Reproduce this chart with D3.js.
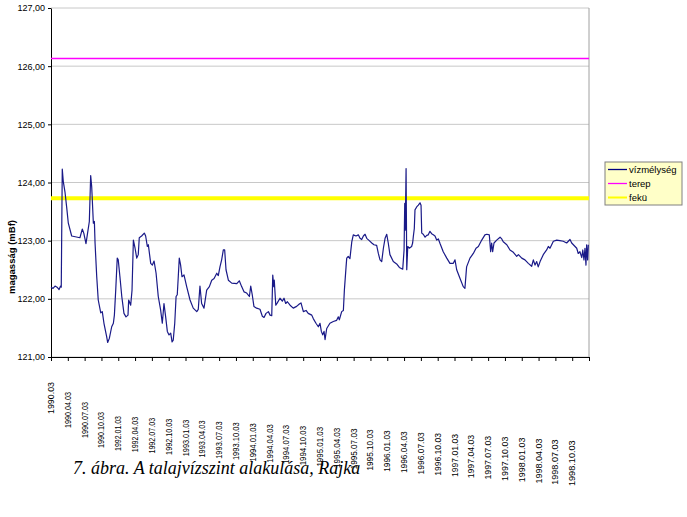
<!DOCTYPE html>
<html>
<head>
<meta charset="utf-8">
<script src="https://cdn.jsdelivr.net/npm/d3@7"></script>
<style>
  body { margin: 0; background: #fff; }
  svg { display: block; font-family: "Liberation Sans", Arial, sans-serif; }
</style>
</head>
<body>
<svg id="chart" width="687" height="517"></svg>
<script>
// tick labels on the category axis (one every quarter)
const quarterLabels = ["1990.03", "1990.04.03", "1990.07.03", "1990.10.03",
  "1992.01.03", "1992.04.03", "1992.07.03", "1992.10.03",
  "1993.01.03", "1993.04.03", "1993.07.03", "1993.10.03",
  "1994.01.03", "1994.04.03", "1994.07.03", "1994.10.03",
  "1995.01.03", "1995.04.03", "1995.07.03", "1995.10.03",
  "1996.01.03", "1996.04.03", "1996.07.03", "1996.10.03",
  "1997.01.03", "1997.04.03", "1997.07.03", "1997.10.03",
  "1998.01.03", "1998.04.03", "1998.07.03", "1998.10.03"];

// measurement time in quarters since the first label
const obsT = [0, 0.12, 0.24, 0.36, 0.48, 0.57, 0.61, 0.67, 0.73, 0.83, 0.93, 1.03, 1.23, 1.72, 1.86, 1.95,
  2.08, 2.16, 2.28, 2.36, 2.42, 2.52, 2.58, 2.62, 2.72, 2.81, 2.96, 3.05, 3.15, 3.31, 3.37, 3.47,
  3.61, 3.71, 3.77, 3.85, 3.94, 4.00, 4.10, 4.21, 4.34, 4.46, 4.58, 4.62, 4.74, 4.82, 4.90, 5.00,
  5.10, 5.19, 5.25, 5.39, 5.55, 5.63, 5.73, 5.79, 5.93, 6.03, 6.13, 6.25, 6.38, 6.52, 6.62, 6.72,
  6.82, 6.92, 7.02, 7.12, 7.20, 7.27, 7.36, 7.44, 7.51, 7.57, 7.63, 7.71, 7.79, 7.91, 8.07, 8.27,
  8.46, 8.67, 8.76, 8.86, 8.96, 9.10, 9.26, 9.42, 9.56, 9.70, 9.86, 9.95, 10.05, 10.15, 10.25, 10.33,
  10.41, 10.55, 10.75, 11.05, 11.20, 11.34, 11.48, 11.64, 11.80, 11.88, 11.97, 12.07, 12.23, 12.43,
  12.57, 12.67, 12.79, 12.93, 13.03, 13.13, 13.19, 13.25, 13.28, 13.37, 13.46, 13.62, 13.76, 13.86,
  13.96, 14.06, 14.22, 14.41, 14.61, 14.77, 14.87, 15.01, 15.17, 15.30, 15.51, 15.60, 15.76, 15.90,
  16.00, 16.08, 16.16, 16.24, 16.30, 16.40, 16.59, 16.79, 16.99, 17.09, 17.15, 17.29, 17.39, 17.45,
  17.55, 17.59, 17.68, 17.78, 17.89, 17.98, 18.14, 18.28, 18.38, 18.48, 18.58, 18.68, 18.78, 18.93,
  19.08, 19.21, 19.37, 19.47, 19.57, 19.67, 19.77, 19.87, 19.97, 20.06, 20.16, 20.36, 20.56, 20.72,
  20.92, 21.00, 21.04, 21.07, 21.12, 21.16, 21.22, 21.31, 21.45, 21.51, 21.55, 21.61, 21.65, 21.75,
  21.85, 21.95, 22.01, 22.05, 22.14, 22.25, 22.35, 22.44, 22.54, 22.64, 22.74, 22.84, 22.94, 23.04,
  23.14, 23.33, 23.54, 23.73, 23.93, 24.03, 24.13, 24.33, 24.52, 24.62, 24.72, 24.92, 25.12, 25.28,
  25.42, 25.62, 25.81, 25.92, 26.07, 26.15, 26.21, 26.27, 26.35, 26.51, 26.71, 26.81, 26.90, 27.11,
  27.30, 27.50, 27.70, 27.80, 28.00, 28.19, 28.39, 28.59, 28.69, 28.79, 28.89, 28.98, 29.09, 29.28,
  29.48, 29.58, 29.68, 29.88, 30.08, 30.27, 30.47, 30.67, 30.77, 30.87, 30.97, 31.17, 31.27, 31.36,
  31.46, 31.57, 31.63, 31.70, 31.76, 31.82, 31.86, 31.92, 31.96];

// vízmélység (mBf)
const obsLevel = [122.20, 122.18, 122.22, 122.20, 122.16, 122.22, 122.20, 124.23, 124.02, 123.84, 123.58, 123.30, 123.08, 123.05, 123.20, 123.13,
  122.95, 123.10, 123.33, 124.12, 123.93, 123.30, 123.33, 122.96, 122.38, 121.98, 121.76, 121.78, 121.58, 121.35, 121.25, 121.32,
  121.52, 121.58, 121.72, 122.15, 122.70, 122.67, 122.38, 122.04, 121.75, 121.69, 121.72, 121.98, 121.89, 122.15, 123.01, 122.87,
  122.70, 122.76, 123.05, 123.08, 123.13, 123.08, 122.90, 122.93, 122.61, 122.58, 122.65, 122.44, 122.04, 121.81, 121.58, 121.92,
  121.69, 121.44, 121.38, 121.41, 121.26, 121.29, 121.58, 122.04, 122.07, 122.38, 122.70, 122.58, 122.38, 122.41, 122.21, 121.98,
  121.84, 121.78, 121.82, 122.22, 121.92, 121.84, 122.15, 122.21, 122.32, 122.35, 122.44, 122.40, 122.55, 122.67, 122.84, 122.84,
  122.50, 122.32, 122.27, 122.26, 122.31, 122.21, 122.12, 122.10, 122.04, 122.22, 122.07, 121.87, 121.84, 121.82,
  121.70, 121.68, 121.75, 121.78, 121.72, 121.71, 122.41, 122.21, 122.32, 121.89, 121.93, 122.01, 121.96, 122.01,
  121.92, 121.95, 121.89, 121.84, 121.87, 121.91, 121.93, 121.78, 121.80, 121.75, 121.72, 121.66, 121.58, 121.52,
  121.58, 121.44, 121.38, 121.44, 121.30, 121.49, 121.58, 121.61, 121.63, 121.69, 121.64, 121.78, 121.80, 122.15,
  122.55, 122.70, 122.73, 122.69, 122.98, 123.10, 123.08, 123.10, 123.04, 123.02, 123.08, 123.11, 123.04, 123.00,
  122.96, 122.93, 122.92, 122.78, 122.67, 122.64, 122.87, 123.04, 123.11, 122.96, 122.76, 122.64, 122.60, 122.54,
  122.51, 122.84, 123.64, 123.18, 124.24, 122.50, 122.90, 122.87, 122.90, 122.96, 123.07, 123.21, 123.53, 123.58,
  123.61, 123.65, 123.61, 123.13, 123.11, 123.06, 123.09, 123.10, 123.16, 123.12, 123.10, 123.08, 123.01, 123.03,
  122.95, 122.81, 122.70, 122.61, 122.61, 122.67, 122.50, 122.35, 122.21, 122.18, 122.55, 122.70, 122.78, 122.87,
  122.90, 123.01, 123.10, 123.11, 123.10, 122.81, 122.96, 122.81, 122.96, 123.01, 123.06, 123.03, 122.98, 122.93,
  122.84, 122.80, 122.73, 122.76, 122.70, 122.67, 122.61, 122.56, 122.67, 122.58, 122.64, 122.55, 122.64, 122.76,
  122.84, 122.90, 122.87, 122.99, 123.01, 123.00, 122.99, 122.96, 122.99, 123.02, 122.96, 122.90, 122.87, 122.78,
  122.81, 122.71, 122.84, 122.67, 122.87, 122.58, 122.93, 122.67, 122.93];

const terepLevel = 126.13;
const fekuLevel = 123.73;
const yTicks = [121, 122, 123, 124, 125, 126, 127];

const legendNames = ["vízmélység", "terep", "fekü"];
const legendColors = ["#000080", "#ff00ff", "#ffff00"];

const svg = d3.select("#chart");
const plotLeft = 51, plotRight = 589, plotTop = 8, plotBottom = 357;

const x = d3.scaleLinear().domain([0, quarterLabels.length]).range([plotLeft, plotRight]);
const y = d3.scaleLinear().domain([121, 127]).range([plotBottom, plotTop]);
const fmt = v => d3.format(".2f")(v).replace(".", ",");

// gridlines
svg.append("g")
  .selectAll("line")
  .data(yTicks)
  .join("line")
  .attr("x1", plotLeft).attr("x2", plotRight)
  .attr("y1", d => y(d)).attr("y2", d => y(d))
  .attr("stroke", "#c8c8c8").attr("stroke-width", 1);

// right border
svg.append("line")
  .attr("x1", plotRight).attr("x2", plotRight).attr("y1", plotTop).attr("y2", plotBottom)
  .attr("stroke", "#a0a0a0");

// y axis
const yAxis = svg.append("g")
  .attr("transform", `translate(${plotLeft},0)`)
  .call(d3.axisLeft(y).tickValues(yTicks).tickFormat(fmt).tickSize(3).tickSizeOuter(0).tickPadding(3));
yAxis.select(".domain").attr("stroke", "#000");
yAxis.selectAll(".tick line").attr("stroke", "#000");
yAxis.selectAll("text").attr("font-size", 9).attr("fill", "#000")
  .attr("font-family", "Liberation Sans, Arial, sans-serif");

// x axis: ticks every quarter
const xAxis = svg.append("g")
  .attr("transform", `translate(0,${plotBottom})`)
  .call(d3.axisBottom(x).tickValues(d3.range(quarterLabels.length + 1)).tickFormat("").tickSize(4).tickSizeOuter(0));
xAxis.select(".domain").attr("stroke", "#000");
xAxis.selectAll(".tick line").attr("stroke", "#000");

// rotated quarter labels, staggered and stretched like the original
svg.append("g")
  .selectAll("text")
  .data(quarterLabels)
  .join("text")
  .attr("transform", (d, i) => {
    const ty = i < 4 ? 382 + i * 10 : 416 + (i - 4) * 0.9;
    return `translate(${x(i) + 3},${ty}) rotate(-90)`;
  })
  .attr("text-anchor", "end")
  .attr("font-size", 8.5)
  .attr("textLength", (d, i) => i == 0 ? 32 : i < 4 ? 36 : 35 + (i - 4) * 0.4)
  .attr("lengthAdjust", "spacingAndGlyphs")
  .attr("fill", "#000")
  .text(d => d);

// y axis title
svg.append("text")
  .attr("transform", "translate(15,257) rotate(-90)")
  .attr("text-anchor", "middle")
  .attr("font-size", 9.5)
  .attr("font-weight", "bold")
  .text("magasság (mBf)");

// fekü and terep
svg.append("line")
  .attr("x1", plotLeft).attr("x2", plotRight)
  .attr("y1", y(fekuLevel)).attr("y2", y(fekuLevel))
  .attr("stroke", legendColors[2]).attr("stroke-width", 4);
svg.append("line")
  .attr("x1", plotLeft).attr("x2", plotRight)
  .attr("y1", y(terepLevel)).attr("y2", y(terepLevel))
  .attr("stroke", legendColors[1]).attr("stroke-width", 1.5);

// water level line
const line = d3.line()
  .x((d, i) => x(obsT[i]))
  .y(d => y(d));
svg.append("path")
  .datum(obsLevel)
  .attr("d", line)
  .attr("fill", "none")
  .attr("stroke", "#1a1a88")
  .attr("stroke-width", 1.2)
  .attr("stroke-linejoin", "round");

// legend
const legend = svg.append("g").attr("transform", "translate(605,162)");
legend.append("rect")
  .attr("width", 77).attr("height", 43)
  .attr("fill", "#ffffc8").attr("stroke", "#808080");
const rows = legend.selectAll("g")
  .data(legendNames)
  .join("g")
  .attr("transform", (d, i) => `translate(0,${7.5 + i * 14})`);
rows.append("line")
  .attr("x1", 3).attr("x2", 22)
  .attr("stroke", (d, i) => legendColors[i])
  .attr("stroke-width", (d, i) => i == 2 ? 2 : 1.3);
rows.append("text")
  .attr("x", 24).attr("dy", "0.35em")
  .attr("font-size", 9.5)
  .text(d => d);

// caption
svg.append("text")
  .attr("x", 73).attr("y", 474)
  .attr("font-family", "Liberation Serif, Times New Roman, serif")
  .attr("font-style", "italic")
  .attr("font-size", 18)
  .text("7. ábra. A talajvízszint alakulása, Rajka");
</script>
</body>
</html>
